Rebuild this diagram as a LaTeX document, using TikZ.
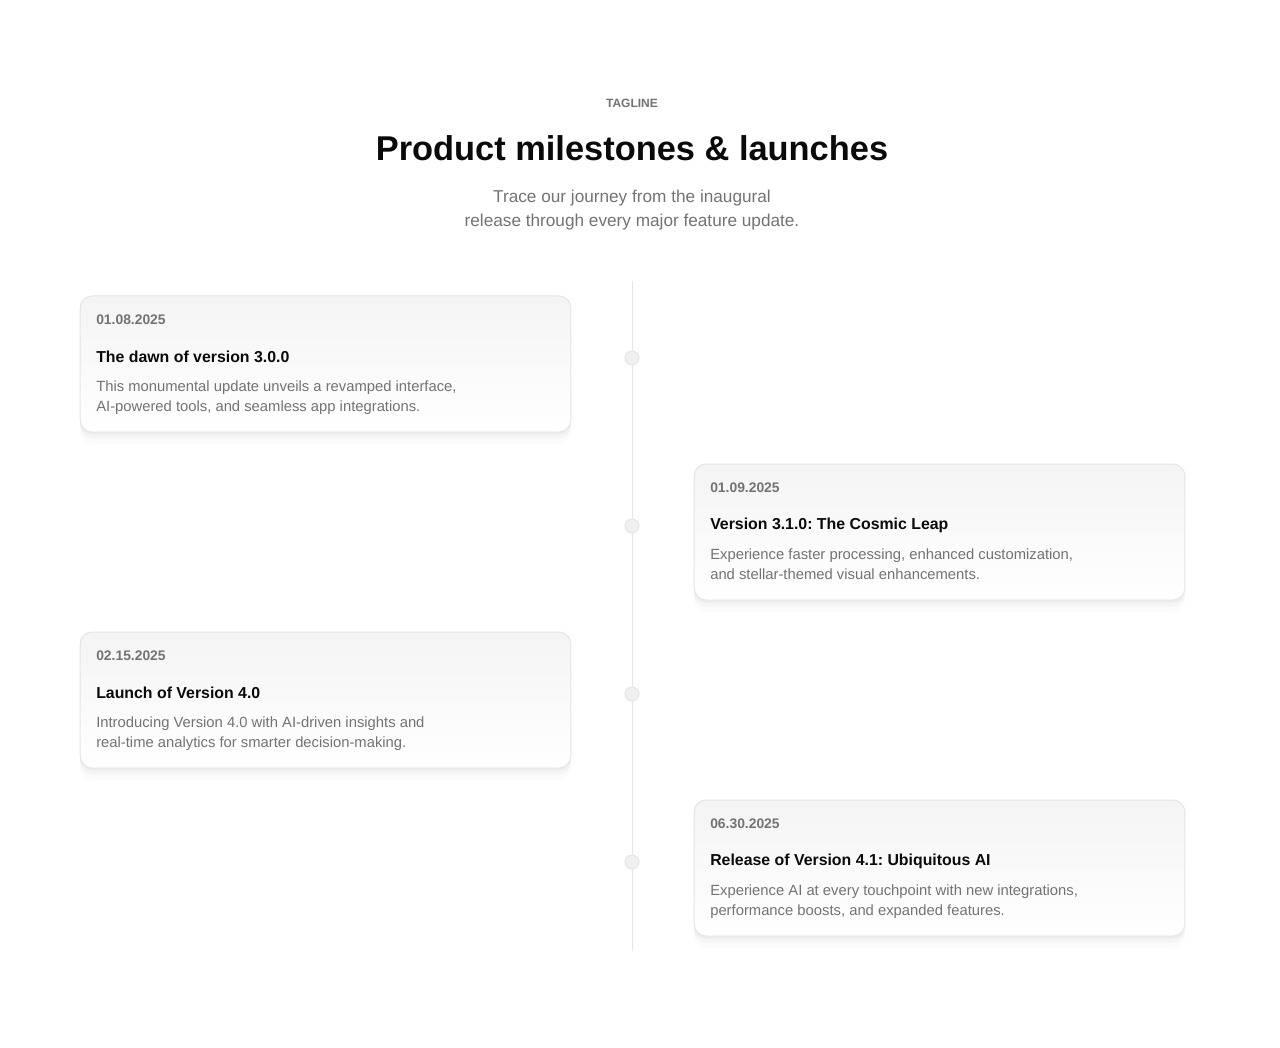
\documentclass[tikz,border=0pt]{standalone}
\usepackage{fontspec}
\setmainfont{Liberation Sans}
\frenchspacing
\usetikzlibrary{shadows}
\definecolor{inkgray}{HTML}{737373}
\definecolor{inkdark}{HTML}{0A0A0A}
\definecolor{cardline}{HTML}{E5E5E5}
\definecolor{cardtop}{HTML}{F4F4F4}
\definecolor{railgray}{HTML}{E6E6E6}
\definecolor{dotfill}{HTML}{F0F0F0}
\begin{document}
\begin{tikzpicture}[x=0.75pt,y=-0.75pt,
    card/.style={draw=cardline, line width=0.75pt, rounded corners=9pt,
      top color=cardtop, bottom color=white,
      minimum width=368pt, minimum height=102pt, inner sep=0pt,
      drop shadow={shadow xshift=0pt, shadow yshift=-2pt, opacity=0.035, fill=black},
      drop shadow={shadow xshift=0pt, shadow yshift=-5pt, opacity=0.025, fill=black},
      drop shadow={shadow xshift=0pt, shadow yshift=-9pt, opacity=0.015, fill=black}},
    dot/.style={circle, draw=railgray, line width=0.75pt, fill=dotfill, minimum size=10.5pt, inner sep=0pt},
    date/.style={anchor=west, inner sep=0pt, text=inkgray, font=\fontsize{10.4}{12}\bfseries},
    head/.style={anchor=west, inner sep=0pt, text=inkdark, font=\fontsize{11.9}{15}\bfseries},
    blurb/.style={anchor=west, inner sep=0pt, text=inkgray, align=left, font=\fontsize{11.1}{15}\selectfont}]
  \useasboundingbox[fill=white] (0,0) rectangle (1280,1048);

  % header
  \node (tag) at (632,103) [text=inkgray, font=\fontsize{9}{11}\bfseries] {TAGLINE};
  \node (title) at (632,148) [text=inkdark, font=\fontsize{25.8}{31}\bfseries] {Product milestones \& launches};
  \node (sub) at (632,210) [text=inkgray, align=center, font=\fontsize{12.9}{18}\selectfont]
    {Trace our journey from the inaugural\\release through every major feature update.};

  % rail
  \coordinate (railtop) at (632,281);
  \coordinate (railbot) at (632,951);
  \draw[railgray, line width=0.75pt] (railtop) -- (railbot);
  \node (d1) at (632,358) [dot] {};
  \node (d2) at (632,526) [dot] {};
  \node (d3) at (632,694) [dot] {};
  \node (d4) at (632,862) [dot] {};

  % cards
  \node (c1) at (325.5,364) [card] {};
  \node (c2) at (939.5,532) [card] {};
  \node (c3) at (325.5,700) [card] {};
  \node (c4) at (939.5,868) [card] {};

  \node (t1) at (96,320) [date] {01.08.2025};
  \node (h1) at (96,357) [head] {The dawn of version 3.0.0};
  \node (b1) at (96,398) [blurb] {This monumental update unveils a revamped interface,\\AI-powered tools, and seamless app integrations.};

  \node (t2) at (710,488) [date] {01.09.2025};
  \node (h2) at (710,525) [head] {Version 3.1.0: The Cosmic Leap};
  \node (b2) at (710,564) [blurb] {Experience faster processing, enhanced customization,\\and stellar-themed visual enhancements.};

  \node (t3) at (96,656) [date] {02.15.2025};
  \node (h3) at (96,693) [head] {Launch of Version 4.0};
  \node (b3) at (96,734) [blurb] {Introducing Version 4.0 with AI-driven insights and\\real-time analytics for smarter decision-making.};

  \node (t4) at (710,824) [date] {06.30.2025};
  \node (h4) at (710,861) [head] {Release of Version 4.1: Ubiquitous AI};
  \node (b4) at (710,902) [blurb] {Experience AI at every touchpoint with new integrations,\\performance boosts, and expanded features.};
\end{tikzpicture}
\end{document}
